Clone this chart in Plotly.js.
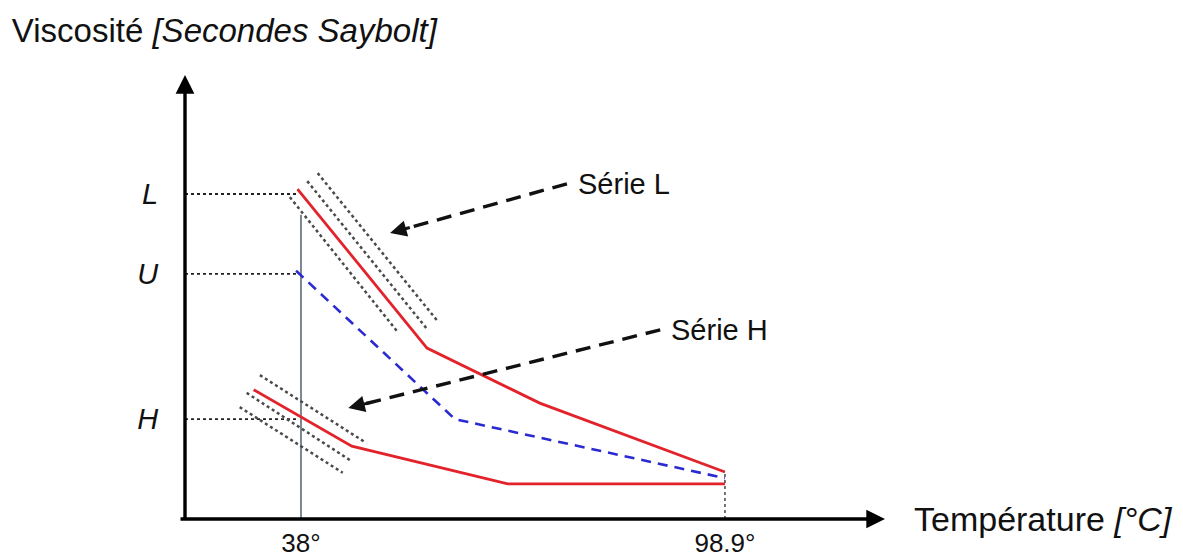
<!DOCTYPE html>
<html>
<head>
<meta charset="utf-8">
<script src="https://cdn.plot.ly/plotly-3.0.1.min.js"></script>
<style>html,body{margin:0;padding:0;background:#fff;}#chart{width:1183px;height:556px;}</style>
</head>
<body>
<div id="chart"></div>
<script>
// ---- Data (temperature in °C, viscosity in schematic units) ----
const tickTemps = [38, 98.9];
const tickLabels = ['38°', '98.9°'];
const levelNames = ['L', 'U', 'H'];
const levelValues = [73.2, 55.2, 22.5];

const serieL_T = [37.5, 56.1, 72.3, 98.9];
const serieL_V = [74.3, 38.5, 26.1, 10.6];
const serieU_T = [37.3, 60.1, 98.9];
const serieU_V = [55.9, 22.5, 9.2];
const serieH_T = [31.2, 45.3, 67.7, 98.9];
const serieH_V = [29.1, 16.4, 7.9, 7.9];

// dotted tolerance bands
const bandL1_T = [40.4, 57.5], bandL1_V = [77.9, 44.8];
const bandL2_T = [38.9, 56.0], bandL2_V = [76.1, 43.0];
const bandL3_T = [36.4, 51.9], bandL3_V = [72.5, 42.1];
const bandH1_T = [32.1, 47.2], bandH1_V = [32.4, 17.3];
const bandH2_T = [30.2, 45.0], bandH2_V = [28.4, 13.3];
const bandH3_T = [29.2, 44.0], bandH3_V = [25.2, 10.4];

// pointers (start -> tip)
const pointerL_T = [76.2, 50.8], pointerL_V = [75.5, 64.4];
const pointerH_T = [89.6, 44.8], pointerH_V = [42.6, 25.0];
const pointerNames = ['Série L', 'Série H'];

// guides
const guideRefT = 37.3;      // end of horizontal level guides
const guide38Top = 68.5;     // top of vertical guide at 38°

const xRange = [21.34, 121.89];
const yRange = [0, 100];

const red = '#e3232b', blue = '#2a2ad2', dotc = '#4a4a4a';
const FONT = 'Liberation Sans, Arial, sans-serif';

const traces = [];
function line(x, y, color, width, dash) {
  traces.push({x: x, y: y, mode: 'lines', type: 'scatter', hoverinfo: 'skip',
    line: {color: color, width: width, dash: dash || 'solid'}, showlegend: false});
}
// level guides
levelValues.forEach(v => line([xRange[0], guideRefT], [v, v], '#222', 1.8, 'dot'));
// vertical guides
line([tickTemps[0], tickTemps[0]], [0, guide38Top], '#7d8794', 2, 'solid');
line([tickTemps[1], tickTemps[1]], [0, serieL_V[serieL_V.length - 1]], '#666', 1.8, 'dot');
// bands
[[bandL1_T, bandL1_V], [bandL2_T, bandL2_V], [bandL3_T, bandL3_V],
 [bandH1_T, bandH1_V], [bandH2_T, bandH2_V], [bandH3_T, bandH3_V]]
  .forEach(b => line(b[0], b[1], dotc, 2.5, 'dot'));
// series
line(serieU_T, serieU_V, blue, 2.6, '10px,7px');
line(serieL_T, serieL_V, red, 2.8);
line(serieH_T, serieH_V, red, 2.8);

// pointers: dashed shaft stopping short of the tip
function shaftEnd(T, V, f) { return [T[1] + f * (T[0] - T[1]), V[1] + f * (V[0] - V[1])]; }
const pL = shaftEnd(pointerL_T, pointerL_V, 0.06);
const pH = shaftEnd(pointerH_T, pointerH_V, 0.04);
line([pointerL_T[0], pL[0]], [pointerL_V[0], pL[1]], '#111', 3.4, '15px,9px');
line([pointerH_T[0], pH[0]], [pointerH_V[0], pH[1]], '#111', 3.4, '15px,9px');

const annotations = [
  // axes with arrowheads
  {xref: 'paper', yref: 'paper', x: 1, y: 0, ax: -706, ay: 0, text: '', showarrow: true,
   arrowhead: 2, arrowsize: 1.1, arrowwidth: 3.4, arrowcolor: '#000', standoff: 0},
  {xref: 'paper', yref: 'paper', x: 0, y: 1, ax: 0, ay: 446, text: '', showarrow: true,
   arrowhead: 2, arrowsize: 1.1, arrowwidth: 3.4, arrowcolor: '#000', standoff: 0},
  // pointer heads
  {x: pointerL_T[1], y: pointerL_V[1], axref: 'x', ayref: 'y',
   ax: pointerL_T[1] + 0.12 * (pointerL_T[0] - pointerL_T[1]),
   ay: pointerL_V[1] + 0.12 * (pointerL_V[0] - pointerL_V[1]),
   text: '', showarrow: true, arrowhead: 2, arrowsize: 1.1, arrowwidth: 3, arrowcolor: '#111', standoff: 0},
  {x: pointerH_T[1], y: pointerH_V[1], axref: 'x', ayref: 'y',
   ax: pointerH_T[1] + 0.08 * (pointerH_T[0] - pointerH_T[1]),
   ay: pointerH_V[1] + 0.08 * (pointerH_V[0] - pointerH_V[1]),
   text: '', showarrow: true, arrowhead: 2, arrowsize: 1.1, arrowwidth: 3, arrowcolor: '#111', standoff: 0},
  // pointer labels
  {x: pointerL_T[0], y: pointerL_V[0], xanchor: 'left', yanchor: 'middle', xshift: 9,
   text: pointerNames[0], showarrow: false, font: {family: FONT, size: 29, color: '#111'}},
  {x: pointerH_T[0], y: pointerH_V[0], xanchor: 'left', yanchor: 'middle', xshift: 9,
   text: pointerNames[1], showarrow: false, font: {family: FONT, size: 29, color: '#111'}},
  // x axis title
  {xref: 'paper', yref: 'paper', x: 1.0386, y: 0.0, xanchor: 'left', yanchor: 'middle',
   text: 'Température <i>[°C]</i>', showarrow: false, font: {family: FONT, size: 34, color: '#111'}}
];

const layout = {
  width: 1183, height: 556,
  margin: {l: 185, r: 298, t: 75, b: 37},
  paper_bgcolor: '#fff', plot_bgcolor: '#fff',
  showlegend: false,
  title: {text: 'Viscosité <i>[Secondes Saybolt]</i>', xref: 'container', yref: 'container',
          x: 0.01, xanchor: 'left', y: 0.945, yanchor: 'middle',
          font: {family: FONT, size: 33, color: '#111'}},
  xaxis: {range: xRange, showgrid: false, zeroline: false, showline: false,
          tickmode: 'array', tickvals: tickTemps, ticktext: tickLabels,
          ticks: 'outside', ticklen: 1, tickcolor: 'rgba(0,0,0,0)',
          tickfont: {family: FONT, size: 26, color: '#111'}, fixedrange: true},
  yaxis: {range: yRange, showgrid: false, zeroline: false, showline: false,
          tickmode: 'array', tickvals: levelValues,
          ticktext: levelNames.map(n => '<i>' + n + '</i>'),
          ticks: 'outside', ticklen: 20, tickcolor: 'rgba(0,0,0,0)',
          tickfont: {family: FONT, size: 29, color: '#111'}, fixedrange: true},
  annotations: annotations
};

Plotly.newPlot('chart', traces, layout, {displayModeBar: false, staticPlot: true});
</script>
</body>
</html>
